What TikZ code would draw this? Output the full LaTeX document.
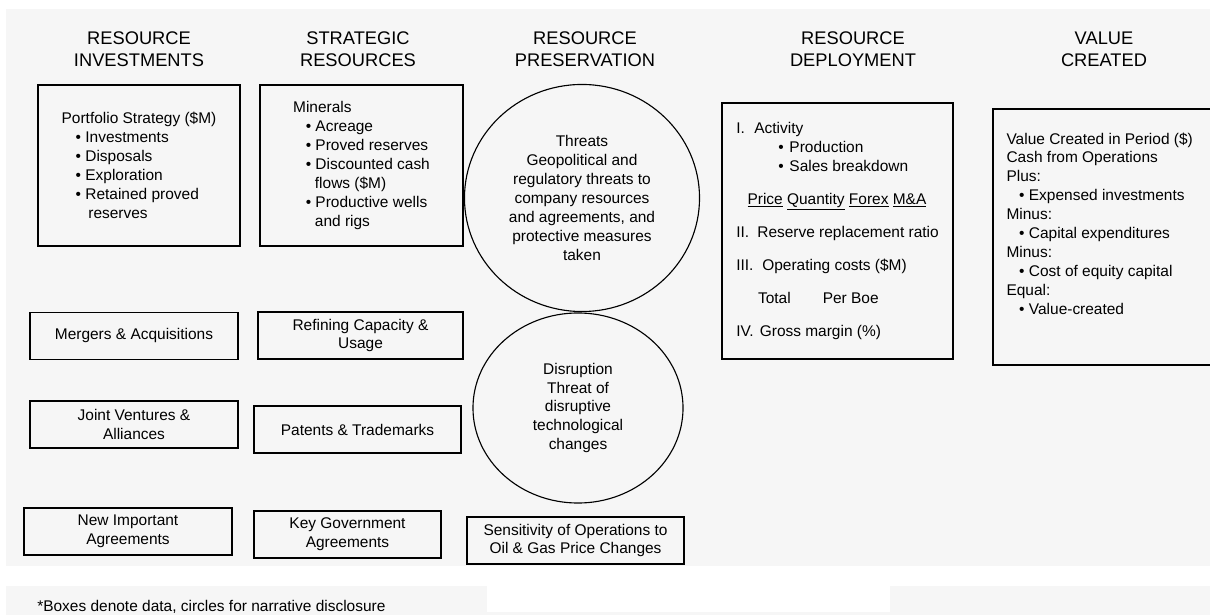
\documentclass[tikz,border=0pt]{standalone}
\usepackage{fontspec}
\setmainfont{Liberation Sans}
\usepackage{tikz}
\usetikzlibrary{shapes.geometric}
\definecolor{bgcol}{RGB}{246,246,246}

\begin{document}
\begin{tikzpicture}[x=0.025cm,y=-0.025cm]
  \tikzset{head/.style = {align=center, inner sep=0pt, font=\fontsize{13}{15.6}\selectfont}}
  \tikzset{databox/.style = {draw, line width=0.8pt, align=center, inner sep=2pt, font=\fontsize{11}{13.5}\selectfont}}
  \tikzset{listbox/.style = {databox, align=left}}
  \tikzset{story/.style = {shape=ellipse, draw, line width=0.8pt, align=center, inner sep=1pt, font=\fontsize{11}{13.5}\selectfont}}

  \useasboundingbox (0,0) rectangle (1210,615);
  \fill[white] (0,0) rectangle (1210,615);
  \fill[bgcol] (6,9) rectangle (1210,566);
  \fill[bgcol] (6,586) rectangle (1210,615);
  \fill[white] (487,577) rectangle (890,612);

	% column heads
	\node[head] (hInv) at (139,49) {RESOURCE\\INVESTMENTS};
	\node[head] (hStr) at (358,49) {STRATEGIC\\RESOURCES};
	\node[head] (hPres) at (585,49) {RESOURCE\\PRESERVATION};
	\node[head] (hDep) at (853,49) {RESOURCE\\DEPLOYMENT};
	\node[head] (hVal) at (1104,49) {VALUE\\CREATED};

	% big boxes
	\node[listbox, minimum width=5.05cm, minimum height=4.025cm] (port) at (139,165.5)
	  {Portfolio Strategy (\$M)\\
	   \hspace*{10pt}\textbullet\ Investments\\
	   \hspace*{10pt}\textbullet\ Disposals\\
	   \hspace*{10pt}\textbullet\ Exploration\\
	   \hspace*{10pt}\textbullet\ Retained proved\\
	   \hspace*{19pt}reserves};
	\node[listbox, minimum width=5.075cm, minimum height=4.025cm] (minr) at (361.5,165.5)
	  {Minerals\\
	   \hspace*{9pt}\textbullet\ Acreage\\
	   \hspace*{9pt}\textbullet\ Proved reserves\\
	   \hspace*{9pt}\textbullet\ Discounted cash\\
	   \hspace*{15.5pt}flows (\$M)\\
	   \hspace*{9pt}\textbullet\ Productive wells\\
	   \hspace*{15.5pt}and rigs};
	\node[listbox, minimum width=5.775cm, minimum height=6.4cm] (depl) at (837.5,231)
	  {I.\hspace{6.7pt}Activity\\
	   \hspace*{30pt}\textbullet\hspace{4pt}Production\\
	   \hspace*{30pt}\textbullet\hspace{4pt}Sales breakdown\\[10pt]
	   \hspace*{8pt}\underline{Price} \underline{Quantity} \underline{Forex} \underline{M\&A}\\[10pt]
	   II.\hspace{5.8pt}Reserve replacement ratio\\[10pt]
	   III.\hspace{6.3pt}Operating costs (\$M)\\[10pt]
	   \hspace*{15.5pt}Total\hspace{22.8pt}Per Boe\\[10pt]
	   IV.\hspace{4.3pt}Gross margin (\%)};
	\node[draw, line width=0.8pt, minimum width=5.925cm, minimum height=6.4cm] (valbox) at (1111.5,237) {};
	\node[listbox, draw=none, inner sep=0pt, anchor=north west] (valtext) at (1006,132)
	  {Value Created in Period (\$)\\
	   Cash from Operations\\
	   Plus:\\
	   \hspace*{9pt}\textbullet\ Expensed investments\\
	   Minus:\\
	   \hspace*{9pt}\textbullet\ Capital expenditures\\
	   Minus:\\
	   \hspace*{9pt}\textbullet\ Cost of equity capital\\
	   Equal:\\
	   \hspace*{9pt}\textbullet\ Value-created};

	% narrative circles
	\node[story, minimum width=5.875cm, minimum height=5.675cm] (thr) at (582,198)
	  {Threats\\Geopolitical and\\regulatory threats to\\company resources\\and agreements, and\\protective measures\\taken};
	\node[story, minimum width=5.25cm, minimum height=4.75cm] (dis) at (578,408)
	  {Disruption\\Threat of\\disruptive\\technological\\changes};

	% small data boxes
	\foreach \nm/\px/\py/\w/\txt in {merg/134/336/5.2/{Mergers \& Acquisitions},
	    refn/360.5/335.5/5.125/{Refining Capacity \&\\Usage},
	    jv/134/424.5/5.2/{Joint Ventures \&\\Alliances},
	    pat/357.5/429.5/5.175/{Patents \& Trademarks},
	    nia/128/531.5/5.2/{New Important\\Agreements},
	    kga/347.5/534.5/4.675/{Key Government\\Agreements},
	    sens/575.5/540.5/5.425/{Sensitivity of Operations to\\Oil \& Gas Price Changes}}
	\node[databox, minimum width=\w cm, minimum height=1.175cm] (\nm) at (\px,\py) {\txt};

	\node[anchor=base west, inner sep=0pt, font=\fontsize{11}{13.5}\selectfont] (note) at (37,611)
	  {*Boxes denote data, circles for narrative disclosure};
\end{tikzpicture}
\end{document}
